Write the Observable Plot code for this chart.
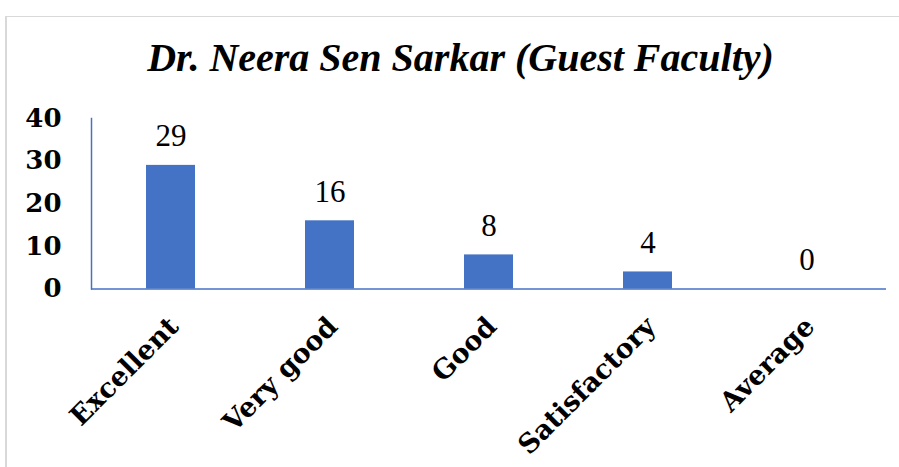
<!DOCTYPE html>
<html>
<head>
<meta charset="utf-8">
<script src="https://cdn.jsdelivr.net/npm/d3@7"></script>
<script src="https://cdn.jsdelivr.net/npm/@observablehq/plot@0.6"></script>
<style>
  html, body { margin: 0; padding: 0; background: #fff; }
  #page { position: relative; width: 899px; height: 467px; overflow: hidden; background: #fff; }
  #frame { position: absolute; left: 5px; top: 16px; width: 1000px; height: 1000px;
           border-top: 1.5px solid #d9d9d9; border-left: 2px solid #d9d9d9; }
  #title { position: absolute; left: 0; width: 921px; top: 38px; text-align: center;
           font-family: "Liberation Serif", serif; font-weight: bold; font-style: italic;
           font-size: 40px; line-height: 40px; color: #000; white-space: nowrap; }
  #chart { position: absolute; left: 0; top: 100px; }
</style>
</head>
<body>
<div id="page">
  <div id="frame"></div>
  <div id="title">Dr. Neera Sen Sarkar (Guest Faculty)</div>
  <div id="chart"></div>
</div>
<script>
const titleText = "Dr. Neera Sen Sarkar (Guest Faculty)";
const categories = ["Excellent", "Very good", "Good", "Satisfactory", "Average"];
const counts = [29, 16, 8, 4, 0];
const yTicks = [0, 10, 20, 30, 40];

const data = categories.map((c, i) => ({category: c, count: counts[i]}));
const blue = "#4472C4";

document.getElementById("title").textContent = titleText;

const chart = Plot.plot({
  width: 899,
  height: 367,
  marginLeft: 91,
  marginRight: 13,
  marginTop: 18,
  marginBottom: 178.5,
  style: {background: "transparent", overflow: "visible", color: "#000"},
  x: {domain: categories, paddingInner: 0.69, paddingOuter: 0.345, label: null},
  y: {domain: [0, 40], label: null},
  marks: [
    Plot.barY(data, {x: "category", y: "count", fill: blue}),
    Plot.ruleY([0], {stroke: blue, strokeWidth: 1.5}),
    Plot.frame({anchor: "left", stroke: blue, strokeWidth: 1.5}),
    Plot.text(data, {x: "category", y: "count", text: d => String(d.count), dy: -29,
      lineAnchor: "middle", fontSize: 31, fontFamily: "Liberation Serif", fill: "#000"}),
    Plot.axisY({ticks: yTicks, tickSize: 0, tickPadding: 30, fontSize: 26, fontWeight: "bold",
      fontFamily: "DejaVu Serif", fill: "#000", label: null}),
    Plot.axisX({tickRotate: -45, tickSize: 0, tickPadding: 33, dx: 3, fontSize: 27, fontWeight: "bold",
      fontFamily: "DejaVu Serif", fill: "#000", label: null})
  ]
});
document.getElementById("chart").appendChild(chart);
</script>
</body>
</html>
